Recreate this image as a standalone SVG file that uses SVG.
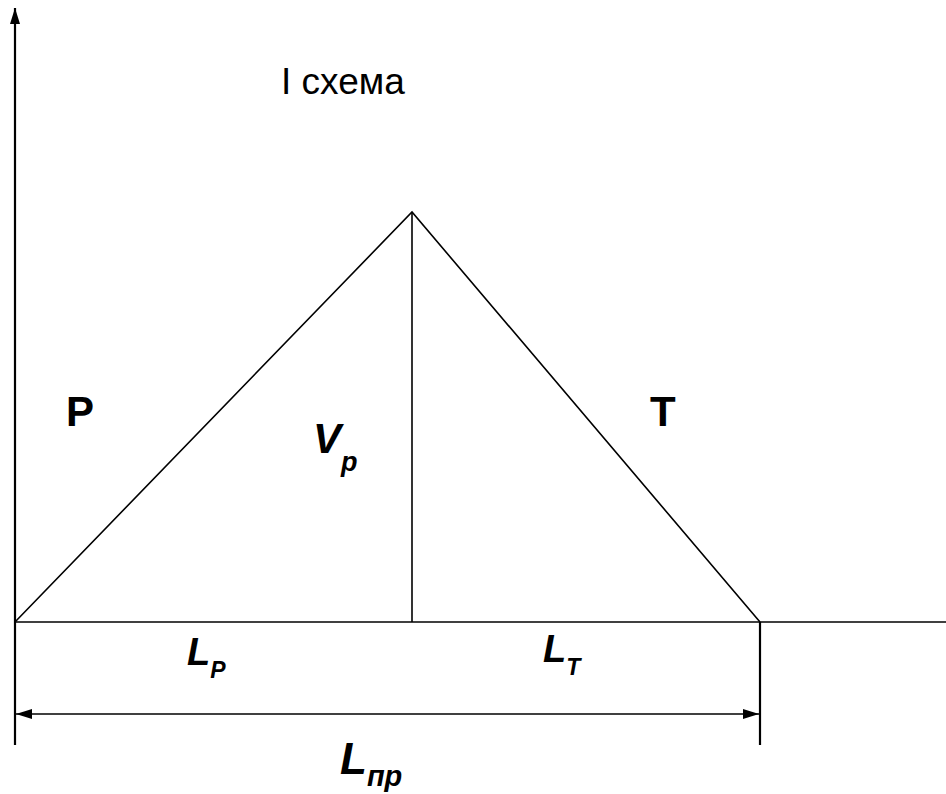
<svg xmlns="http://www.w3.org/2000/svg" width="946" height="794" viewBox="0 0 946 794">
<style>
.ln{stroke:#000;stroke-width:1.6;fill:none}
.ax{stroke:#000;stroke-width:2.2;fill:none}
.t{font-family:"Liberation Sans",Arial,sans-serif;fill:#000}
.bi{font-weight:bold;font-style:italic}
.b{font-weight:bold}
</style>
<defs>
<marker id="ah" viewBox="0 0 16 10" refX="16" refY="5" markerWidth="16" markerHeight="10" markerUnits="userSpaceOnUse" orient="auto-start-reverse">
<path d="M0,0 L16,5 L0,10 Z" fill="#000"/>
</marker>
</defs>
<rect width="946" height="794" fill="#fff"/>
<g id="connectors">
<line class="ax" x1="15" y1="745" x2="15" y2="8" marker-end="url(#ah)"/>
<line class="ln" x1="15" y1="622" x2="946" y2="622"/>
<polyline class="ln" points="15,622 412,212 760,622"/>
<line class="ln" x1="412" y1="212" x2="412" y2="622"/>
<line class="ax" x1="760" y1="622" x2="760" y2="745"/>
<line class="ln" x1="16" y1="714" x2="759" y2="714" marker-start="url(#ah)" marker-end="url(#ah)"/>
</g>
<g id="title"><text class="t" x="281" y="94" font-size="37">I схема</text></g>
<g id="P"><text class="t b" x="66" y="426" font-size="42">P</text></g>
<g id="T"><text class="t b" x="650" y="426" font-size="42">T</text></g>
<g id="Vp"><text class="t bi" x="313" y="453" font-size="42">V<tspan font-size="27" dy="18">p</tspan></text></g>
<g id="LP"><text class="t bi" x="187" y="665" font-size="38">L<tspan font-size="23" dy="13">P</tspan></text></g>
<g id="LT"><text class="t bi" x="543" y="662" font-size="38">L<tspan font-size="23" dy="13">T</tspan></text></g>
<g id="Lpr"><text class="t bi" x="340" y="774" font-size="44">L<tspan font-size="29" dy="12">пр</tspan></text></g>
</svg>
